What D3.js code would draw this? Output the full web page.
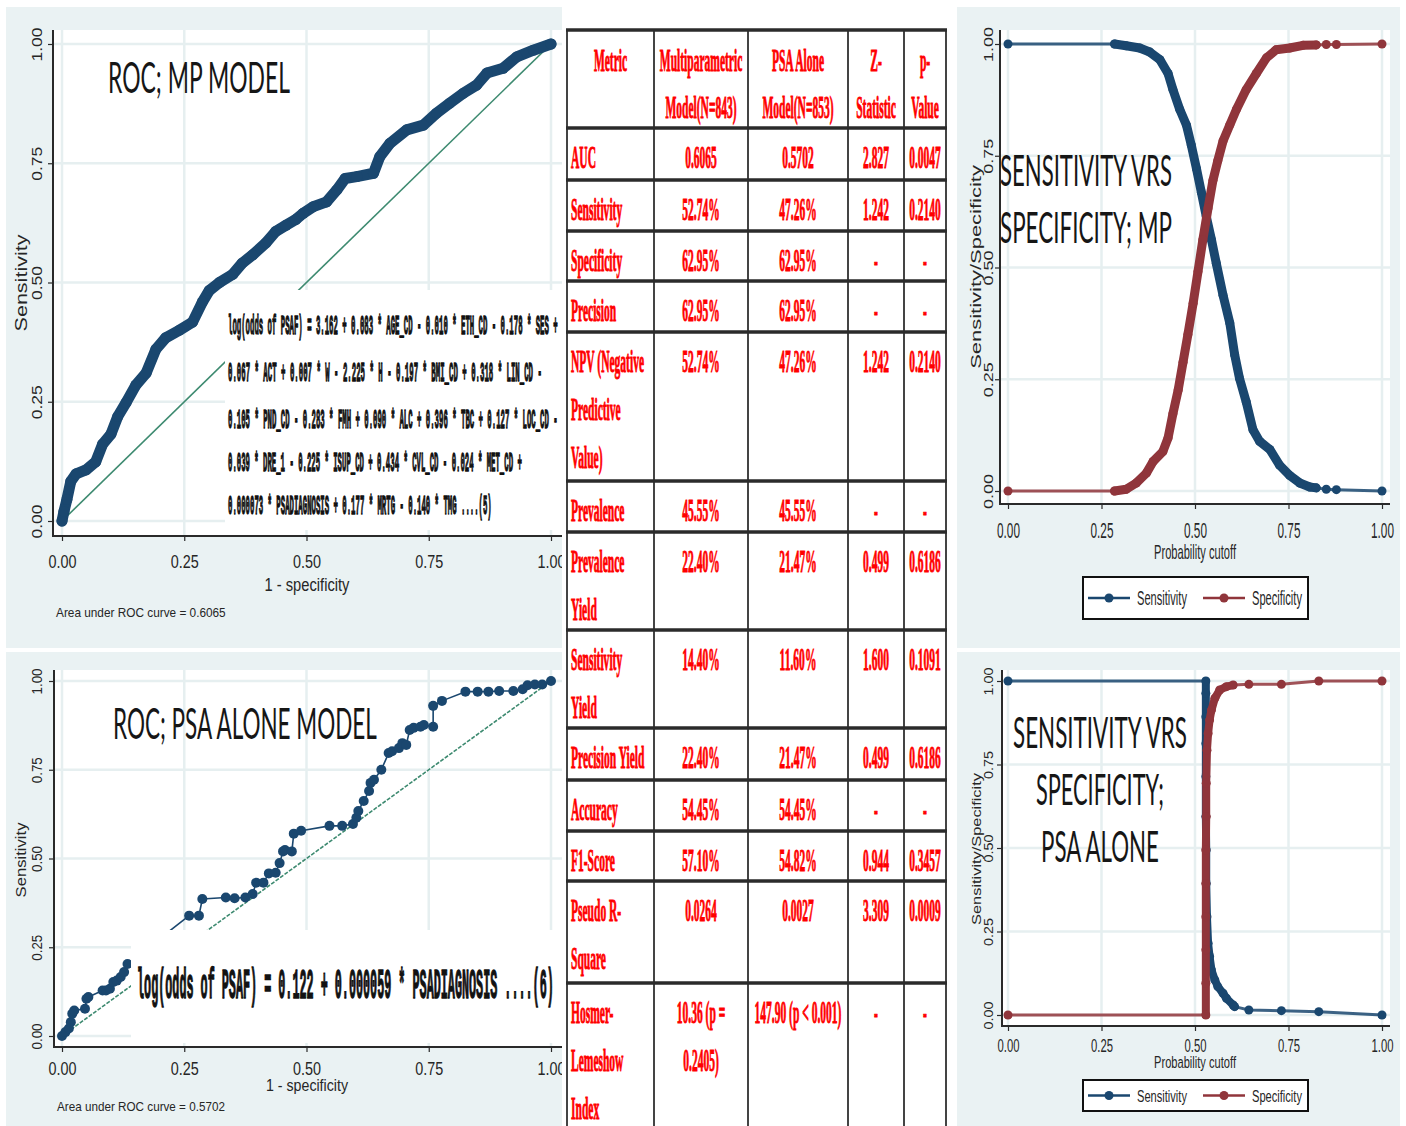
<!DOCTYPE html>
<html>
<head>
<meta charset="utf-8">
<script src="https://cdn.jsdelivr.net/npm/d3@7"></script>
<style>
  html, body { margin: 0; padding: 0; background: #fff; }
  svg { display: block; }
</style>
</head>
<body>
<svg id="fig" width="1406" height="1126"></svg>
<script>
// ---------- data ----------
const tickValues = [0, 0.25, 0.5, 0.75, 1];
const tickLabels = ["0.00", "0.25", "0.50", "0.75", "1.00"];

// ROC curve of the multiparametric model: [1 - specificity, sensitivity]
const rocMpPoints = [
  [0,0],[0.004,0.02],[0.01,0.045],[0.018,0.083],[0.029,0.099],[0.049,0.107],[0.069,0.124],
  [0.083,0.161],[0.1,0.182],[0.114,0.219],[0.131,0.248],[0.151,0.285],[0.172,0.31],[0.192,0.36],
  [0.212,0.384],[0.24,0.40],[0.267,0.417],[0.287,0.459],[0.301,0.483],[0.322,0.50],[0.349,0.517],
  [0.369,0.541],[0.39,0.558],[0.417,0.583],[0.437,0.607],[0.458,0.62],[0.478,0.632],[0.493,0.645],
  [0.514,0.659],[0.541,0.669],[0.562,0.694],[0.579,0.718],[0.603,0.722],[0.637,0.729],[0.650,0.764],
  [0.671,0.792],[0.705,0.820],[0.739,0.830],[0.766,0.855],[0.793,0.876],[0.821,0.897],[0.848,0.914],
  [0.869,0.939],[0.902,0.949],[0.930,0.973],[0.964,0.987],[1,1]
];

// ROC curve of the PSA-alone model
const rocPsaPoints = [
  [0,0],[0.007,0.011],[0.014,0.021],[0.018,0.039],[0.021,0.063],[0.025,0.072],[0.047,0.077],
  [0.05,0.105],[0.054,0.11],[0.083,0.128],[0.09,0.128],[0.098,0.133],[0.105,0.152],[0.112,0.156],
  [0.12,0.166],[0.127,0.18],[0.134,0.203],[0.26,0.339],[0.28,0.339],[0.287,0.386],[0.335,0.39],
  [0.353,0.388],[0.375,0.39],[0.39,0.40],[0.397,0.432],[0.412,0.432],[0.423,0.458],[0.437,0.46],
  [0.445,0.487],[0.452,0.52],[0.456,0.524],[0.47,0.52],[0.474,0.57],[0.489,0.578],[0.547,0.592],
  [0.573,0.592],[0.595,0.597],[0.602,0.615],[0.606,0.634],[0.617,0.662],[0.628,0.69],[0.631,0.713],
  [0.638,0.722],[0.653,0.75],[0.668,0.797],[0.675,0.802],[0.689,0.811],[0.696,0.825],[0.704,0.82],
  [0.711,0.862],[0.719,0.868],[0.733,0.871],[0.74,0.876],[0.759,0.871],[0.759,0.93],[0.777,0.944],
  [0.825,0.97],[0.85,0.97],[0.872,0.97],[0.894,0.972],[0.923,0.972],[0.942,0.977],[0.952,0.988],
  [0.967,0.99],[0.982,0.99],[1,1]
];

// Sensitivity / specificity against probability cutoff, multiparametric model
const mpSensitivity = [
  [0,1],[0.285,1],[0.316,0.996],[0.352,0.991],[0.379,0.982],[0.406,0.965],[0.428,0.934],[0.441,0.898],
  [0.459,0.854],[0.477,0.819],[0.49,0.774],[0.504,0.721],[0.517,0.668],[0.53,0.615],[0.544,0.562],
  [0.557,0.509],[0.575,0.438],[0.593,0.376],[0.606,0.305],[0.619,0.252],[0.637,0.199],[0.655,0.137],
  [0.673,0.111],[0.7,0.093],[0.726,0.058],[0.753,0.035],[0.78,0.018],[0.807,0.009],[0.824,0.007],
  [0.851,0.004],[0.878,0.003],[1,0]
];
const mpSpecificity = [
  [0,0],[0.285,0],[0.316,0.004],[0.343,0.018],[0.37,0.04],[0.388,0.066],[0.414,0.088],[0.428,0.119],
  [0.441,0.173],[0.455,0.226],[0.468,0.288],[0.481,0.35],[0.495,0.42],[0.508,0.491],[0.521,0.562],
  [0.535,0.633],[0.548,0.695],[0.561,0.739],[0.575,0.783],[0.593,0.819],[0.611,0.854],[0.637,0.898],
  [0.664,0.934],[0.691,0.969],[0.717,0.987],[0.753,0.991],[0.789,0.997],[0.824,0.998],[0.851,0.999],
  [0.878,0.999],[1,1]
];

// Sensitivity / specificity against probability cutoff, PSA-alone model
const psaSensitivity = [
  [0,1],[0.529,1],[0.529,0.963],[0.529,0.893],[0.529,0.813],[0.529,0.714],[0.529,0.594],[0.530,0.494],
  [0.530,0.394],[0.532,0.294],[0.535,0.215],[0.539,0.175],[0.544,0.135],[0.553,0.105],[0.561,0.085],
  [0.575,0.065],[0.584,0.05],[0.602,0.03],[0.606,0.025],[0.644,0.015],[0.731,0.013],[0.831,0.01],[1,0]
];
const psaSpecificity = [
  [0,0],[0.529,0],[0.529,0.095],[0.529,0.195],[0.529,0.294],[0.529,0.394],[0.529,0.494],[0.530,0.594],
  [0.530,0.694],[0.532,0.793],[0.535,0.843],[0.539,0.883],[0.544,0.913],[0.553,0.948],[0.566,0.973],
  [0.584,0.983],[0.602,0.988],[0.644,0.99],[0.731,0.99],[0.831,1.0],[1,1]
];

// Fitted equations printed on the ROC panels
const mpEquationLines = [
  "log(odds of PSAF) = 3.162 + 0.083 * AGE_CD - 0.010 * ETH_CD - 0.178 * SES +",
  "0.067 * ACT + 0.007 * W - 2.225 * H - 0.197 * BMI_CD + 0.318 * LIN_CD -",
  "0.105 * PND_CD - 0.283 * FMH + 0.090 * ALC + 0.396 * TBC + 0.127 * LOC_CD -",
  "0.039 * DRE_1 - 0.225 * ISUP_CD + 0.434 * CVL_CD - 0.024 * MET_CD +",
  "0.000073 * PSADIAGNOSIS + 0.177 * MRTG - 0.140 * TMG ....(5)"
];
const psaEquation = "log(odds of PSAF) = 0.122 + 0.000059 * PSADIAGNOSIS ....(6)";

// Comparison table
const tableHeader = [["Metric"], ["Multiparametric", "Model(N=843)"], ["PSA Alone", "Model(N=853)"], ["Z-", "Statistic"], ["p-", "Value"]];
const metricNames = [
  ["AUC"], ["Sensitivity"], ["Specificity"], ["Precision"], ["NPV (Negative", "Predictive", "Value)"],
  ["Prevalence"], ["Prevalence", "Yield"], ["Sensitivity", "Yield"], ["Precision Yield"], ["Accuracy"],
  ["F1-Score"], ["Pseudo R-", "Square"], ["Hosmer-", "Lemeshow", "Index"]
];
const mpModelValues = [
  ["0.6065"], ["52.74%"], ["62.95%"], ["62.95%"], ["52.74%"], ["45.55%"], ["22.40%"], ["14.40%"],
  ["22.40%"], ["54.45%"], ["57.10%"], ["0.0264"], ["10.36 (p =", "0.2405)"]
];
const psaModelValues = [
  ["0.5702"], ["47.26%"], ["62.95%"], ["62.95%"], ["47.26%"], ["45.55%"], ["21.47%"], ["11.60%"],
  ["21.47%"], ["54.45%"], ["54.82%"], ["0.0027"], ["147.90 (p < 0.001)"]
];
const zStatistics = ["2.827", "1.242", "-", "-", "1.242", "-", "0.499", "1.600", "0.499", "-", "0.944", "3.309", "-"];
const pValues = ["0.0047", "0.2140", "-", "-", "0.2140", "-", "0.6186", "0.1091", "0.6186", "-", "0.3457", "0.0009", "-"];

// ---------- styling ----------
const SANS = "'Liberation Sans', Arial, Helvetica, sans-serif";
const MONO = "'Liberation Mono', 'DejaVu Sans Mono', monospace";
const SERIF = "'Liberation Serif', 'Times New Roman', serif";
const HEAD = "Lato, 'Open Sans', 'Liberation Sans', sans-serif";
const NAVY = "#1a476f", MAROON = "#90353b", REFLINE = "#3d8a70";
const BG = "#eaf2f3", GRID = "#e6eff0", AXIS = "#2a2a2a", LABEL = "#262626";

const svg = d3.select("#fig");

// Text whose glyphs are narrowed (or widened) to a given run length while keeping
// their visual height: the font size sets the width, a vertical scale restores the height.
function label(parent, X, Y, str, o) {
  const g = parent.append("g")
    .attr("transform", `translate(${X},${Y})` + (o.rotate ? ` rotate(${o.rotate})` : ""));
  const t = g.append("text").attr("text-anchor", o.anchor || "start")
    .attr("font-family", o.family || SANS).attr("font-weight", o.weight || null)
    .attr("font-size", o.size).attr("fill", o.fill || LABEL).text(str);
  const w0 = t.node().getComputedTextLength();
  let target = o.width;
  if (o.ratio) target = w0 * o.ratio;
  if (target && w0 > 0) {
    const f = target / w0;
    t.attr("font-size", o.size * f).attr("transform", `scale(1,${1 / f})`);
  }
  if (o.stroke) t.attr("stroke", o.stroke).attr("stroke-width", o.sw);
  return t;
}

// One Stata-style graph panel: outer region, white plot region, grid, scales
function makePanel(o) {
  const g = svg.append("g");
  const x = d3.scaleLinear().domain([0, 1]).range(o.xRange);
  const y = d3.scaleLinear().domain([0, 1]).range(o.yRange);
  g.append("rect").attr("x", o.outer[0]).attr("y", o.outer[1])
    .attr("width", o.outer[2]).attr("height", o.outer[3]).attr("fill", BG);
  g.append("rect").attr("x", o.left).attr("y", o.top)
    .attr("width", o.right - o.left).attr("height", o.bottom - o.top).attr("fill", "#fff");
  const grid = g.append("g").attr("stroke", GRID).attr("stroke-width", 2.5);
  tickValues.forEach(v => {
    grid.append("line").attr("x1", x(v)).attr("x2", x(v)).attr("y1", o.top).attr("y2", o.bottom);
    grid.append("line").attr("x1", o.left).attr("x2", o.right).attr("y1", y(v)).attr("y2", y(v));
  });
  return { g, x, y, o };
}

function drawAxes(p, a) {
  const o = p.o;
  const xa = p.g.append("g").attr("transform", `translate(0,${o.bottom})`)
    .call(d3.axisBottom(p.x).tickValues(tickValues).tickFormat("").tickSize(5));
  xa.select(".domain").remove();
  xa.selectAll(".tick text").remove();
  xa.selectAll(".tick line").attr("stroke", AXIS).attr("stroke-width", 1.2);
  xa.selectAll(".tick").each(function (d, i) {
    label(d3.select(this), 0, a.xBase, tickLabels[i], { anchor: "middle", size: a.xFont, width: a.xLen });
  });

  const ya = p.g.append("g").attr("transform", `translate(${o.left},0)`)
    .call(d3.axisLeft(p.y).tickValues(tickValues).tickFormat("").tickSize(5));
  ya.select(".domain").remove();
  ya.selectAll(".tick text").remove();
  ya.selectAll(".tick line").attr("stroke", AXIS).attr("stroke-width", 1.2);
  ya.selectAll(".tick").each(function (d, i) {
    label(d3.select(this), -a.yOff, 0, tickLabels[i], { anchor: "middle", rotate: -90, size: a.yFont, width: a.yLen });
  });

  p.g.append("line").attr("x1", o.left).attr("x2", o.left).attr("y1", o.top).attr("y2", o.bottom + 1)
    .attr("stroke", AXIS).attr("stroke-width", 2);
  p.g.append("line").attr("x1", o.left - 1).attr("x2", o.right).attr("y1", o.bottom).attr("y2", o.bottom)
    .attr("stroke", AXIS).attr("stroke-width", 2);

  label(p.g, a.xTitle[0], a.xTitle[1], a.xTitleText, { anchor: "middle", size: a.xTitle[2], width: a.xTitle[3] });
  label(p.g, a.yTitle[0], a.yTitle[1], a.yTitleText, { anchor: "middle", rotate: -90, size: a.yTitle[2], width: a.yTitle[3] });
}

// Connected marker series; `band` marks the stretch where markers merge into a solid ribbon
function drawSeries(p, pts, color, s) {
  const line = d3.line().x(d => p.x(d[0])).y(d => p.y(d[1]));
  p.g.append("path").attr("d", line(pts)).attr("fill", "none")
    .attr("stroke", color).attr("stroke-width", s.lw).attr("stroke-opacity", s.lo || 1)
    .attr("stroke-linejoin", "round");
  if (s.band) {
    const sub = pts.filter(d => d[0] >= s.band[0] && d[0] <= s.band[1]);
    p.g.append("path").attr("d", line(sub)).attr("fill", "none")
      .attr("stroke", color).attr("stroke-width", s.bw)
      .attr("stroke-linejoin", "round").attr("stroke-linecap", "round");
  }
  p.g.append("g").selectAll("circle").data(pts).join("circle")
    .attr("cx", d => p.x(d[0])).attr("cy", d => p.y(d[1])).attr("r", s.r).attr("fill", color);
}

function drawReference(p, dash) {
  p.g.append("line").attr("x1", p.x(0)).attr("y1", p.y(0)).attr("x2", p.x(1)).attr("y2", p.y(1))
    .attr("stroke", REFLINE).attr("stroke-width", 1.6).attr("stroke-dasharray", dash || null);
}

function headline(x, y, str, len) {
  label(svg, x, y, str, { family: HEAD, size: 42, width: len, fill: "#161616" });
}

function legend(x, y, w, h, fs) {
  const g = svg.append("g");
  g.append("rect").attr("x", x).attr("y", y).attr("width", w).attr("height", h)
    .attr("fill", "#fff").attr("stroke", "#111").attr("stroke-width", 2);
  const cy = y + h / 2;
  [[NAVY, "Sensitivity", x + 5], [MAROON, "Specificity", x + 120]].forEach(([c, t, lx]) => {
    g.append("line").attr("x1", lx).attr("x2", lx + 42).attr("y1", cy).attr("y2", cy)
      .attr("stroke", c).attr("stroke-width", 2.5);
    g.append("circle").attr("cx", lx + 21).attr("cy", cy).attr("r", 4.5).attr("fill", c);
    label(g, lx + 49, cy + fs * 0.36, t, { size: fs, width: 50 });
  });
}

// ---------- top-left: ROC of the multiparametric model ----------
const pA = makePanel({
  outer: [6, 7, 556, 641], left: 53, right: 562, top: 30, bottom: 536,
  xRange: [62, 551], yRange: [521, 44]
});
drawReference(pA);
drawSeries(pA, rocMpPoints, NAVY, { lw: 3, r: 5.5, band: [0, 1], bw: 11 });
pA.g.append("rect").attr("x", 225).attr("y", 290).attr("width", 337).attr("height", 240).attr("fill", "#fff");
const eqBaselines = [334, 381, 428, 471, 514];
const eqLengths = [330, 314, 330, 294, 264];
mpEquationLines.forEach((t, i) => {
  label(pA.g, 228, eqBaselines[i], t, {
    family: MONO, weight: "bold", size: 27, width: eqLengths[i], fill: "#121212", stroke: "#121212", sw: 0.35
  });
});
drawAxes(pA, {
  xBase: 32, xFont: 19, xLen: 28, yOff: 11, yFont: 15, yLen: 34,
  xTitle: [307, 591, 19, 85], xTitleText: "1 - specificity",
  yTitle: [27, 283, 17, 97], yTitleText: "Sensitivity"
});
label(pA.g, 56, 617, "Area under ROC curve = 0.6065", { size: 13, width: 170 });
headline(108, 93, "ROC; MP MODEL", 182);

// ---------- bottom-left: ROC of the PSA-alone model ----------
const pB = makePanel({
  outer: [6, 652, 556, 474], left: 54, right: 562, top: 670, bottom: 1047,
  xRange: [62, 551], yRange: [1036, 681]
});
drawReference(pB, "4 1.5");
drawSeries(pB, rocPsaPoints, NAVY, { lw: 1.6, r: 5 });
pB.g.append("rect").attr("x", 131).attr("y", 930).attr("width", 431).attr("height", 113).attr("fill", "#fff");
label(pB.g, 137, 998, psaEquation, {
  family: MONO, weight: "bold", size: 42, width: 417, fill: "#121212", stroke: "#121212", sw: 0.4
});
drawAxes(pB, {
  xBase: 27.5, xFont: 18, xLen: 28, yOff: 12, yFont: 14, yLen: 26,
  xTitle: [307, 1091, 16, 82], xTitleText: "1 - specificity",
  yTitle: [26, 860, 15, 75], yTitleText: "Sensitivity"
});
label(pB.g, 57, 1111, "Area under ROC curve = 0.5702", { size: 13, width: 168 });
headline(113, 739, "ROC; PSA ALONE MODEL", 264);

// ---------- top-right: sensitivity vs specificity, multiparametric ----------
const pC = makePanel({
  outer: [957, 7, 443, 641], left: 1000, right: 1390, top: 30, bottom: 504,
  xRange: [1008, 1382], yRange: [491, 44]
});
drawSeries(pC, mpSensitivity, NAVY, { lw: 3, lo: 0.85, r: 4.5, band: [0.285, 0.83], bw: 9 });
drawSeries(pC, mpSpecificity, MAROON, { lw: 3, lo: 0.85, r: 4.5, band: [0.285, 0.83], bw: 9 });
drawAxes(pC, {
  xBase: 34, xFont: 22, xLen: 23, yOff: 7, yFont: 13, yLen: 35,
  xTitle: [1195, 559, 21, 82], xTitleText: "Probability cutoff",
  yTitle: [981, 267, 14, 204], yTitleText: "Sensitivity/Specificity"
});
legend(1083, 577, 225, 42, 20);
headline(1000, 186, "SENSITIVITY VRS", 172);
headline(1000, 243, "SPECIFICITY; MP", 172);

// ---------- bottom-right: sensitivity vs specificity, PSA alone ----------
const pD = makePanel({
  outer: [957, 652, 443, 474], left: 1002, right: 1390, top: 670, bottom: 1026,
  xRange: [1008, 1382], yRange: [1015, 681]
});
drawSeries(pD, psaSensitivity, NAVY, { lw: 3, lo: 0.85, r: 4.5, band: [0.529, 0.61], bw: 8 });
drawSeries(pD, psaSpecificity, MAROON, { lw: 3, lo: 0.85, r: 4.5, band: [0.529, 0.61], bw: 8 });
drawAxes(pD, {
  xBase: 25.5, xFont: 18, xLen: 22, yOff: 9, yFont: 13, yLen: 28,
  xTitle: [1195, 1068, 17, 82], xTitleText: "Probability cutoff",
  yTitle: [981, 849, 13, 152], yTitleText: "Sensitivity/Specificity"
});
legend(1083, 1080, 225, 31, 17);
headline(1013, 748, "SENSITIVITY VRS", 174);
headline(1036, 805, "SPECIFICITY;", 128);
headline(1041, 862, "PSA ALONE", 118);

// ---------- centre: model comparison table ----------
const tbl = svg.append("g");
tbl.append("rect").attr("x", 562).attr("y", 0).attr("width", 395).attr("height", 1126).attr("fill", "#fff");
const colEdges = [567, 654, 748, 848, 904, 946];
const rowEdges = [30, 128, 180, 231, 281, 332, 481, 532, 630, 728, 780, 831, 881, 983, 1126];
const colCentre = i => (colEdges[i] + colEdges[i + 1]) / 2;
const LINE_STEP = 48;

function cellText(x, y, str, anchor) {
  label(tbl, x, y, str, {
    anchor, family: SERIF, weight: "bold", size: 32, ratio: 0.36,
    fill: "#ff0000", stroke: "#ff0000", sw: 0.35
  });
}

tableHeader.forEach((lines, c) => {
  lines.forEach((t, i) => cellText(colCentre(c), rowEdges[0] + 41 + i * 47, t, "middle"));
});
metricNames.forEach((lines, r) => {
  const top = rowEdges[r + 1];
  lines.forEach((t, i) => cellText(571, top + 40 + i * LINE_STEP, t, "start"));
  mpModelValues[r].forEach((t, i) => cellText(colCentre(1), top + 40 + i * LINE_STEP, t, "middle"));
  psaModelValues[r].forEach((t, i) => cellText(colCentre(2), top + 40 + i * LINE_STEP, t, "middle"));
  cellText(colCentre(3), top + 40, zStatistics[r], "middle");
  cellText(colCentre(4), top + 40, pValues[r], "middle");
});

colEdges.forEach(x => {
  tbl.append("line").attr("x1", x).attr("x2", x).attr("y1", rowEdges[0]).attr("y2", 1126)
    .attr("stroke", "#444").attr("stroke-width", 2);
});
rowEdges.slice(0, -1).forEach(y => {
  tbl.append("line").attr("x1", colEdges[0] - 1).attr("x2", colEdges[colEdges.length - 1] + 1)
    .attr("y1", y).attr("y2", y).attr("stroke", "#2b2b2b").attr("stroke-width", 3.5);
});
</script>
</body>
</html>
